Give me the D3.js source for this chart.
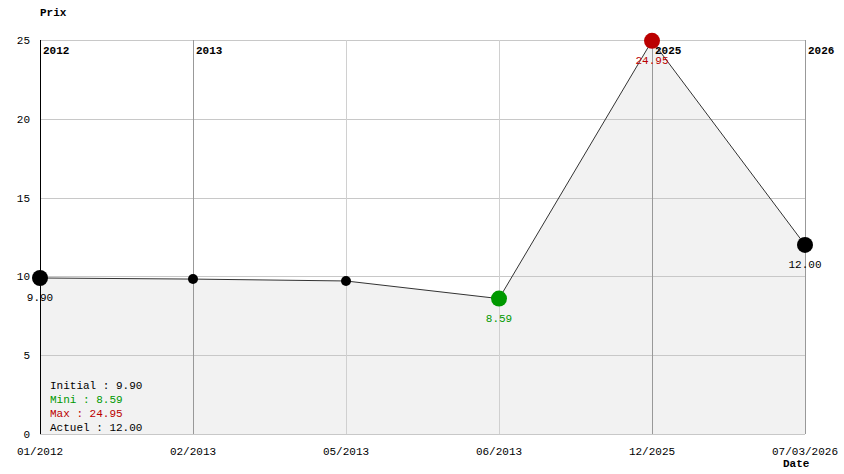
<!DOCTYPE html><html><head><meta charset="utf-8"><script src="https://d3js.org/d3.v7.min.js"></script>
<style>body{margin:0;background:#fff}text{font-family:"Liberation Mono","DejaVu Sans Mono",monospace;font-size:11px}</style></head><body><svg id="c" width="844" height="474"></svg>
<script>
const dates=["01/2012","02/2013","05/2013","06/2013","12/2025","07/03/2026"];
const prices=[9.90,9.83,9.71,8.59,24.95,12.00];
const yearLabels=[{i:0,y:"2012"},{i:1,y:"2013"},{i:4,y:"2025"},{i:5,y:"2026"}];
const yTicks=[0,5,10,15,20,25];
const summary=[["Initial : 9.90","#000"],["Mini : 8.59","#009900"],["Max : 24.95","#bb0000"],["Actuel : 12.00","#000"]];
const svg=d3.select("#c");
const L=40,R=805,T=40,B=434;
const x=d3.scalePoint().domain(d3.range(dates.length)).range([L,R]);
const y=d3.scaleLinear().domain([0,25]).range([B,T]);
const px=v=>Math.round(v)+0.5;
svg.append("path").datum(prices).attr("fill","#f2f2f2")
 .attr("d",d3.area().x((d,i)=>x(i)).y0(B).y1(d=>y(d)));
yTicks.forEach(t=>svg.append("line").attr("x1",L).attr("x2",R).attr("y1",px(y(t))).attr("y2",px(y(t))).attr("stroke","#c8c8c8"));
dates.forEach((d,i)=>svg.append("line").attr("x1",px(x(i))).attr("x2",px(x(i))).attr("y1",T).attr("y2",B).attr("stroke","#d0d0d0"));
yearLabels.forEach(o=>{
 svg.append("line").attr("x1",px(x(o.i))).attr("x2",px(x(o.i))).attr("y1",T).attr("y2",B).attr("stroke",o.i==0?"#000":"#999");
 svg.append("text").attr("x",x(o.i)+3).attr("y",T+14).attr("font-weight","bold").text(o.y);
});
yTicks.forEach(t=>svg.append("text").attr("x",L-10).attr("y",y(t)+4).attr("text-anchor","end").text(t));
dates.forEach((d,i)=>svg.append("text").attr("x",x(i)).attr("y",455).attr("text-anchor","middle").text(d));
svg.append("text").attr("x",40).attr("y",16).attr("font-weight","bold").text("Prix");
svg.append("text").attr("x",783).attr("y",467).attr("font-weight","bold").text("Date");
svg.append("path").datum(prices).attr("fill","none").attr("stroke","#333").attr("stroke-width",1)
 .attr("d",d3.line().x((d,i)=>x(i)).y(d=>y(d)));
const mn=d3.min(prices),mx=d3.max(prices),last=prices.length-1;
prices.forEach((p,i)=>{
 let col="#000",r=5,lab=null;
 if(i==0){r=8;lab=true}
 if(p==mn){col="#009900";r=8;lab=true}
 if(p==mx){col="#bb0000";r=8;lab=true}
 if(i==last){r=8;lab=true}
 svg.append("circle").attr("cx",x(i)).attr("cy",y(p)).attr("r",r).attr("fill",col);
 if(lab)svg.append("text").attr("x",x(i)).attr("y",y(p)+23).attr("text-anchor","middle").attr("fill",col).text(p.toFixed(2));
});
summary.forEach((s,k)=>svg.append("text").attr("x",50).attr("y",389+k*14).attr("fill",s[1]).text(s[0]));
</script></body></html>
